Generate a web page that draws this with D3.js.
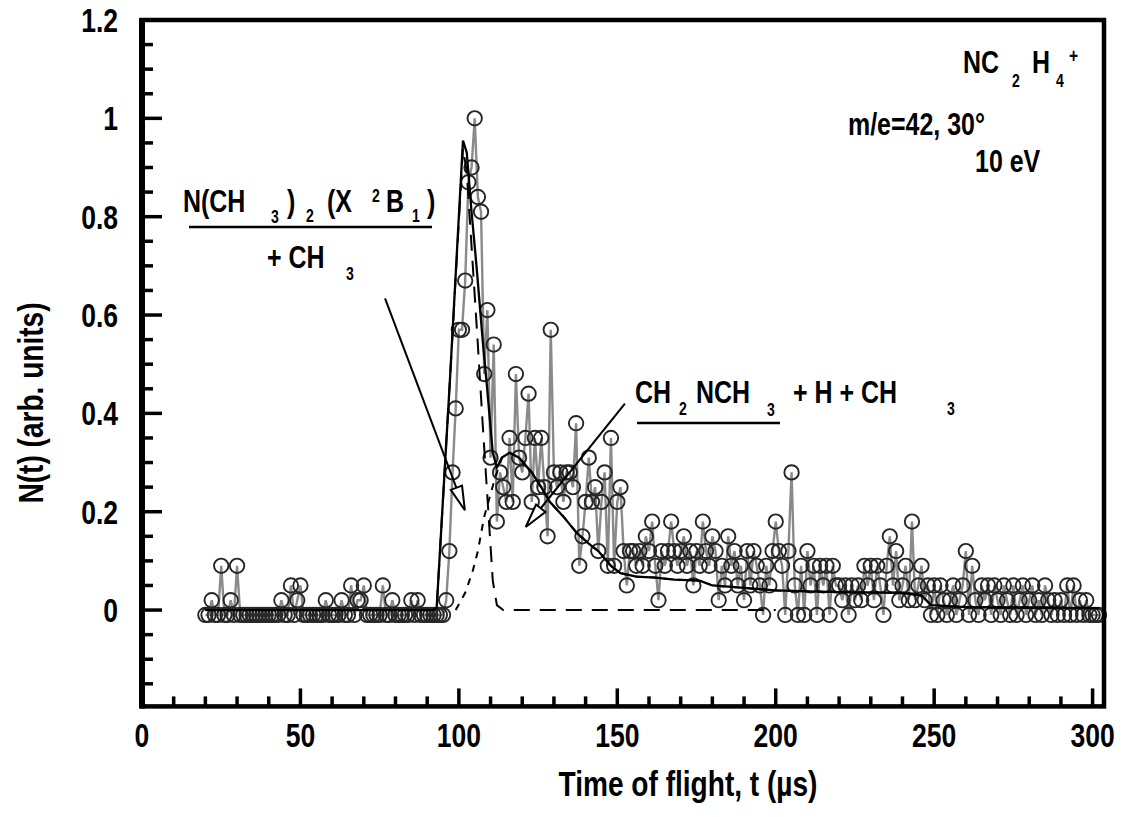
<!DOCTYPE html>
<html>
<head>
<meta charset="utf-8">
<script src="https://cdn.jsdelivr.net/npm/d3@7"></script>
<style>
  html, body { margin: 0; background: #fff; }
  svg text { font-family: "Liberation Sans", Arial, Helvetica, sans-serif; font-weight: bold; fill: #000; }
</style>
</head>
<body>
<svg id="chart" width="1129" height="817"></svg>
<script>
// Axis ticks
const xTicks = [0, 50, 100, 150, 200, 250, 300];
const xTickLabels = ["0", "50", "100", "150", "200", "250", "300"];
const yTicks = [0, 0.2, 0.4, 0.6, 0.8, 1, 1.2];
const yTickLabels = ["0", "0.2", "0.4", "0.6", "0.8", "1", "1.2"];

// Measured time-of-flight spectrum, one channel per microsecond
const timeUs = [
  20,21,22,23,24,25,26,27,28,29, 30,31,32,33,34,35,36,37,38,39,
  40,41,42,43,44,45,46,47,48,49, 50,51,52,53,54,55,56,57,58,59,
  60,61,62,63,64,65,66,67,68,69, 70,71,72,73,74,75,76,77,78,79,
  80,81,82,83,84,85,86,87,88,89, 90,91,92,93,94,95,96,97,98,99,
  100,101,102,103,104,105,106,107,108,109, 110,111,112,113,114,115,116,117,118,119,
  120,121,122,123,124,125,126,127,128,129, 130,131,132,133,134,135,136,137,138,139,
  140,141,142,143,144,145,146,147,148,149, 150,151,152,153,154,155,156,157,158,159,
  160,161,162,163,164,165,166,167,168,169, 170,171,172,173,174,175,176,177,178,179,
  180,181,182,183,184,185,186,187,188,189, 190,191,192,193,194,195,196,197,198,199,
  200,201,202,203,204,205,206,207,208,209, 210,211,212,213,214,215,216,217,218,219,
  220,221,222,223,224,225,226,227,228,229, 230,231,232,233,234,235,236,237,238,239,
  240,241,242,243,244,245,246,247,248,249, 250,251,252,253,254,255,256,257,258,259,
  260,261,262,263,264,265,266,267,268,269, 270,271,272,273,274,275,276,277,278,279,
  280,281,282,283,284,285,286,287,288,289, 290,291,292,293,294,295,296,297,298,299,
  300,301,302
];
const signal = [
  -0.01,-0.01,0.02,-0.01,-0.01,0.09,-0.01,-0.01,0.02,-0.01,
  0.09,-0.01,-0.01,-0.01,-0.01,-0.01,-0.01,-0.01,-0.01,-0.01,
  -0.01,-0.01,-0.01,-0.01,0.02,-0.01,-0.01,0.05,-0.01,0.02,
  0.05,-0.01,-0.01,-0.01,-0.01,-0.01,-0.01,-0.01,0.02,-0.01,
  -0.01,-0.01,-0.01,0.02,-0.01,-0.01,0.05,-0.01,0.02,0.02,
  0.05,-0.01,-0.01,-0.01,-0.01,-0.01,0.05,-0.01,-0.01,0.02,
  -0.01,-0.01,-0.01,-0.01,-0.01,0.02,-0.01,0.02,-0.01,-0.01,
  -0.01,-0.01,-0.01,-0.01,-0.01,-0.01,0.02,0.12,0.28,0.41,
  0.57,0.57,0.67,0.87,0.90,1.00,0.84,0.81,0.48,0.61,
  0.31,0.54,0.18,0.28,0.25,0.22,0.35,0.22,0.48,0.31,
  0.28,0.35,0.44,0.22,0.35,0.25,0.35,0.25,0.15,0.57,
  0.28,0.25,0.28,0.22,0.28,0.28,0.25,0.38,0.09,0.15,
  0.22,0.31,0.22,0.25,0.12,0.22,0.28,0.09,0.35,0.09,
  0.22,0.25,0.12,0.05,0.12,0.12,0.09,0.12,0.09,0.15,
  0.12,0.18,0.09,0.02,0.12,0.09,0.12,0.18,0.12,0.09,
  0.12,0.15,0.09,0.12,0.05,0.12,0.09,0.18,0.12,0.09,
  0.15,0.12,0.02,0.09,0.05,0.15,0.09,0.12,0.05,0.09,
  0.02,0.12,0.05,0.12,0.09,0.05,-0.01,0.09,0.05,0.12,
  0.18,0.12,0.09,-0.01,0.12,0.28,0.05,-0.01,0.09,-0.01,
  0.12,0.05,0.09,-0.01,0.09,0.05,0.09,-0.01,0.09,0.05,
  0.05,0.02,0.05,-0.01,0.05,0.02,0.05,0.02,0.09,0.05,
  0.09,0.02,0.09,0.05,-0.01,0.09,0.15,0.05,0.12,0.02,
  0.05,0.09,0.02,0.18,0.02,0.05,0.09,0.02,0.05,-0.01,
  0.05,-0.01,0.05,0.02,-0.01,0.02,0.05,-0.01,0.02,0.05,
  0.12,-0.01,0.09,0.02,-0.01,0.05,0.02,0.05,-0.01,0.05,
  0.02,-0.01,0.05,0.02,-0.01,0.05,-0.01,0.02,0.05,-0.01,
  0.02,0.05,-0.01,0.02,-0.01,0.05,0.02,-0.01,0.02,-0.01,
  0.02,-0.01,0.05,-0.01,0.05,-0.01,0.02,-0.01,0.02,-0.01,
  -0.01,-0.01,-0.01
];

// Forward-convolution fit: total, fast channel N(CH3)2 + CH3, slow channel CH2NCH3 + H + CH3
const totalFitT = [20, 92, 93, 97.2, 101.3, 102.5, 104, 105.7, 107.5, 108.8, 110.7, 112, 113.6, 116, 119, 123, 126, 128.7, 133, 137.2, 141, 144, 148, 151, 156, 162, 168, 176, 180, 190, 200, 210, 225, 240, 246, 249, 260, 280, 302];
const totalFitN = [0, 0, 0.005, 0.47, 0.955, 0.93, 0.81, 0.69, 0.55, 0.46, 0.32, 0.29, 0.31, 0.32, 0.31, 0.28, 0.25, 0.22, 0.19, 0.157, 0.135, 0.12, 0.09, 0.075, 0.068, 0.066, 0.062, 0.06, 0.05, 0.045, 0.04, 0.038, 0.036, 0.035, 0.03, 0.01, 0.006, 0.005, 0.004];
const fastFitT = [20, 92, 93, 97.2, 101.3, 102.5, 104, 105.7, 107.5, 108.8, 110.7, 112, 114, 200];
const fastFitN = [0, 0, 0.005, 0.47, 0.94, 0.89, 0.74, 0.57, 0.38, 0.25, 0.06, 0.01, 0, 0];
const slowFitT = [99, 102, 104.4, 106, 108, 111.5, 113.6, 116, 119, 123, 126, 128.7, 133, 137.2, 141, 144, 148, 151, 156, 162, 168, 176, 180, 190, 200, 210, 225, 240, 246, 249, 260, 280, 302];
const slowFitN = [0, 0.035, 0.08, 0.12, 0.19, 0.27, 0.31, 0.32, 0.31, 0.28, 0.25, 0.22, 0.19, 0.157, 0.135, 0.12, 0.09, 0.075, 0.068, 0.066, 0.062, 0.06, 0.05, 0.045, 0.04, 0.038, 0.036, 0.035, 0.03, 0.01, 0.006, 0.005, 0.004];

const svg = d3.select("#chart");
const x = d3.scaleLinear().domain([0, 303.6]).range([142, 1104]);
const y = d3.scaleLinear().domain([-0.2, 1.2]).range([708.4, 20]);

// Condensed bold text: Liberation Sans Bold squeezed horizontally
function label(g, px, py, str, size, anchor) {
  return g.append("text")
    .attr("transform", `translate(${px},${py}) scale(0.78,1)`)
    .attr("text-anchor", anchor || "start")
    .attr("font-size", size)
    .text(str);
}

const plot = svg.append("g");

// Data trace and markers
const pts = timeUs.map((t, i) => [t, signal[i]]);
const line = d3.line().x(d => x(d[0])).y(d => y(d[1]));
plot.append("path").datum(pts)
  .attr("d", line).attr("fill", "none")
  .attr("stroke", "#8a8a8a").attr("stroke-width", 2.4);
plot.selectAll("circle.pt").data(pts).join("circle")
  .attr("class", "pt")
  .attr("cx", d => x(d[0])).attr("cy", d => y(d[1])).attr("r", 7.2)
  .attr("fill", "none").attr("stroke", "#262626").attr("stroke-width", 1.9);

// Fit curves
const zip = (a, b) => a.map((t, i) => [t, b[i]]);
plot.append("path").datum(zip(fastFitT, fastFitN))
  .attr("d", line).attr("fill", "none").attr("stroke", "#000")
  .attr("stroke-width", 2).attr("stroke-dasharray", "16,10");
plot.append("path").datum(zip(slowFitT, slowFitN))
  .attr("d", line).attr("fill", "none").attr("stroke", "#000")
  .attr("stroke-width", 2).attr("stroke-dasharray", "7,7");
plot.append("path").datum(zip(totalFitT, totalFitN))
  .attr("d", line).attr("fill", "none").attr("stroke", "#000")
  .attr("stroke-width", 2.3);

// Frame
const x0 = x(0), x1 = x(303.6), yTop = y(1.2), yBot = y(-0.2) - 2;
svg.append("rect").attr("x", x0).attr("y", yTop)
  .attr("width", x1 - x0).attr("height", yBot - yTop)
  .attr("fill", "none").attr("stroke", "#000").attr("stroke-width", 4.5);
svg.append("line").attr("x1", x0).attr("x2", x0).attr("y1", yTop - 2).attr("y2", yBot + 2)
  .attr("stroke", "#000").attr("stroke-width", 6);

// Ticks (inward)
const axes = svg.append("g").attr("stroke", "#000");
d3.range(10, 301, 10).forEach(v => {
  const major = v % 50 === 0;
  axes.append("line").attr("x1", x(v)).attr("x2", x(v))
    .attr("y1", yBot).attr("y2", yBot - (major ? 18 : 10)).attr("stroke-width", 3.5);
});
d3.range(-0.15, 1.19, 0.05).forEach(v => {
  const major = Math.abs(Math.round(v * 5) - v * 5) < 1e-6;
  axes.append("line").attr("x1", x0).attr("x2", x0 + (major ? 20 : 11))
    .attr("y1", y(v)).attr("y2", y(v)).attr("stroke-width", 3.5);
});

// Tick labels
const tl = svg.append("g");
xTicks.forEach((v, i) => label(tl, x(v), 747, xTickLabels[i], 34, "middle"));
yTicks.forEach((v, i) => label(tl, 118, y(v) + 12, yTickLabels[i], 34, "end"));

// Axis titles
label(tl, 688, 796, "Time of flight, t (µs)", 36, "middle");
tl.append("text")
  .attr("transform", "translate(43,403) rotate(-90) scale(0.78,1)")
  .attr("text-anchor", "middle").attr("font-size", 36)
  .text("N(t) (arb. units)");

// Annotations
const ann = svg.append("g");
label(ann, 963, 73, "NC", 32);
label(ann, 1012, 87, "2", 18);
label(ann, 1032, 73, "H", 32);
label(ann, 1056, 87, "4", 18);
label(ann, 1069, 63, "+", 20);
label(ann, 848, 135, "m/e=42, 30°", 32);
label(ann, 975, 172, "10 eV", 32);

label(ann, 183, 212, "N(CH", 32);
label(ann, 271, 223, "3", 18);
label(ann, 287, 212, ")", 32);
label(ann, 306, 222, "2", 18);
label(ann, 327, 212, "(X", 32);
label(ann, 372, 202, "2", 18);
label(ann, 386, 212, "B", 32);
label(ann, 412, 222, "1", 18);
label(ann, 427, 212, ")", 32);
ann.append("line").attr("x1", 189).attr("x2", 432).attr("y1", 227).attr("y2", 227)
  .attr("stroke", "#000").attr("stroke-width", 2.5);
label(ann, 267, 268, "+ CH", 32);
label(ann, 346, 280, "3", 18);

label(ann, 635, 403, "CH", 32);
label(ann, 679, 415, "2", 18);
label(ann, 696, 403, "NCH", 32);
label(ann, 767, 416, "3", 18);
label(ann, 793, 403, "+ H + CH", 32);
label(ann, 947, 415, "3", 18);
ann.append("line").attr("x1", 637).attr("x2", 780).attr("y1", 423).attr("y2", 423)
  .attr("stroke", "#000").attr("stroke-width", 2.5);

// Arrows from the channel labels to their fit components (data coordinates)
const arrows = [
  { from: [76.7, 0.634], to: [101.9, 0.203] },
  { from: [152.4, 0.42], to: [121.1, 0.169] }
];
arrows.forEach(a => {
  const sx = x(a.from[0]), sy = y(a.from[1]), tx = x(a.to[0]), ty = y(a.to[1]);
  const ang = Math.atan2(ty - sy, tx - sx);
  const len = 24, half = 6;
  const bx = tx - len * Math.cos(ang), by = ty - len * Math.sin(ang);
  const px = -Math.sin(ang) * half, py = Math.cos(ang) * half;
  ann.append("line").attr("x1", sx).attr("y1", sy).attr("x2", bx).attr("y2", by)
    .attr("stroke", "#000").attr("stroke-width", 2);
  ann.append("path")
    .attr("d", `M${tx},${ty}L${bx + px},${by + py}L${bx - px},${by - py}Z`)
    .attr("fill", "#fff").attr("stroke", "#000").attr("stroke-width", 2);
});
</script>
</body>
</html>
